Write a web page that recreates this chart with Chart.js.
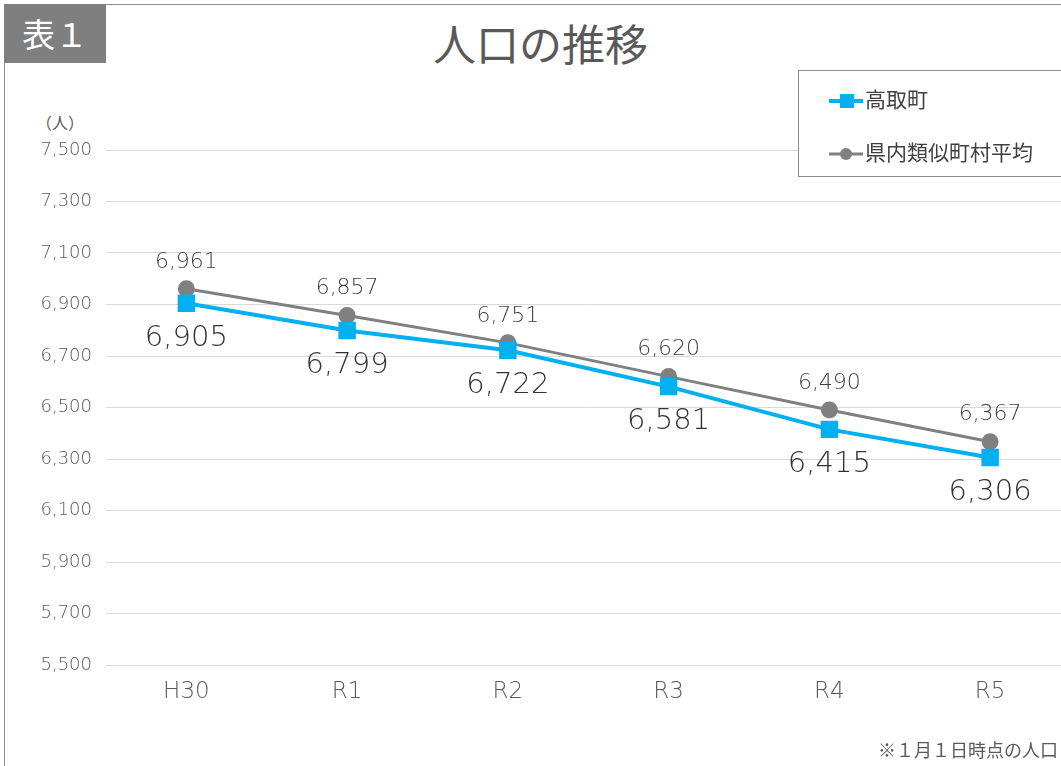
<!DOCTYPE html>
<html>
<head>
<meta charset="utf-8">
<script src="https://cdn.jsdelivr.net/npm/chart.js@4/dist/chart.umd.min.js"></script>
<style>
  html, body { margin: 0; padding: 0; background: #fff; overflow: hidden; }
  body { width: 1061px; height: 766px; position: relative; font-family: "Noto Sans CJK JP", sans-serif; }
  #frame { position: absolute; left: 4px; top: 4px; width: 1100px; height: 800px; border-left: 1px solid #8c8c8c; border-top: 1px solid #8c8c8c; }
  #tag { position: absolute; left: 4px; top: 4px; width: 102px; height: 59px; background: #7f7f7f; color: #fff; font-size: 33px; line-height: 59px; text-align: center; }
  #title { position: absolute; left: 0; width: 1081px; top: 12px; text-align: center; font-size: 43px; line-height: 60px; color: #595959; }
  #unit { position: absolute; left: 36px; top: 110px; font-size: 16px; color: #595959; }
  #legend { position: absolute; left: 798px; top: 70px; width: 300px; height: 105px; border: 1px solid #8c8c8c; background: #fff; }
  .item { position: absolute; left: 30px; font-size: 21px; color: #404040; line-height: 26px; }
  .item canvas { vertical-align: middle; margin-right: 2px; }
  #note { position: absolute; right: 3px; top: 736px; font-size: 18px; color: #595959; }
  #wrap { position: absolute; left: 0; top: 0; width: 1084px; height: 766px; }
</style>
</head>
<body>
<div id="frame"></div>
<div id="tag">表１</div>
<div id="title">人口の推移</div>
<div id="unit">（人）</div>
<div id="wrap"><canvas id="myChart" width="1084" height="766"></canvas></div>
<div id="legend"></div>
<div id="note">※１月１日時点の人口</div>
<script>
const years = ["H30", "R1", "R2", "R3", "R4", "R5"];
const takatori = [6905, 6799, 6722, 6581, 6415, 6306];
const similarAvg = [6961, 6857, 6751, 6620, 6490, 6367];
const yTicks = [5500, 5700, 5900, 6100, 6300, 6500, 6700, 6900, 7100, 7300, 7500];

const numFont = '"DejaVu Sans", sans-serif';

// value labels: grey series above the point, blue series below
const valueLabels = {
  id: 'valueLabels',
  afterDatasetsDraw(chart) {
    const ctx = chart.ctx;
    ctx.save();
    ctx.textAlign = 'center';
    ctx.textBaseline = 'middle';
    chart.data.datasets.forEach((ds, i) => {
      const meta = chart.getDatasetMeta(i);
      meta.data.forEach((pt, j) => {
        const v = ds.data[j].toLocaleString('en-US');
        if (i === 0) {
          ctx.fillStyle = '#333333';
          ctx.font = '200 29px ' + numFont;
          ctx.fillText(v, pt.x, pt.y + 35);
        } else {
          ctx.fillStyle = '#404040';
          ctx.font = '200 22px ' + numFont;
          ctx.fillText(v, pt.x, pt.y - 27);
        }
      });
    });
    ctx.restore();
  }
};

const data = {
  labels: years,
  datasets: [
    {
      label: '高取町',
      data: takatori,
      borderColor: '#00B0F0',
      backgroundColor: '#00B0F0',
      borderWidth: 4,
      pointStyle: 'rect',
      pointRadius: 9.5,
      pointHoverRadius: 9.5,
      order: 1
    },
    {
      label: '県内類似町村平均',
      data: similarAvg,
      borderColor: '#808080',
      backgroundColor: '#808080',
      borderWidth: 3,
      pointStyle: 'circle',
      pointRadius: 7,
      pointHoverRadius: 7,
      order: 2
    }
  ]
};

const config = {
  type: 'line',
  data: data,
  options: {
    responsive: false,
    animation: false,
    layout: { padding: { top: 150, right: 0, left: 0, bottom: 0 } },
    plugins: {
      legend: { display: false },
      tooltip: { enabled: false }
    },
    scales: {
      x: {
        offset: true,
        grid: { display: false, drawTicks: false },
        border: { display: false },
        ticks: {
          color: '#595959',
          font: { family: numFont, size: 23, weight: '200' },
          padding: 13
        },
        afterFit(scale) { scale.height = 101; }
      },
      y: {
        min: 5500,
        max: 7500,
        afterBuildTicks(scale) { scale.ticks = yTicks.map(v => ({ value: v })); },
        grid: { color: '#d9d9d9', lineWidth: 1, drawTicks: false },
        border: { display: false },
        ticks: {
          color: '#595959',
          font: { family: numFont, size: 18, weight: '200' },
          padding: 14,
          callback: v => v.toLocaleString('en-US')
        },
        afterFit(scale) { scale.width = 106; }
      }
    }
  },
  plugins: [valueLabels]
};

const myChart = new Chart(document.getElementById('myChart'), config);

// legend built from the datasets
const legend = document.getElementById('legend');
data.datasets.forEach((ds, i) => {
  const item = document.createElement('div');
  item.className = 'item';
  item.style.top = (i === 0 ? 14 : 67) + 'px';
  const c = document.createElement('canvas');
  c.width = 34; c.height = 20;
  const g = c.getContext('2d');
  g.strokeStyle = ds.borderColor; g.lineWidth = ds.borderWidth;
  g.beginPath(); g.moveTo(0, 10); g.lineTo(34, 10); g.stroke();
  g.fillStyle = ds.backgroundColor;
  if (ds.pointStyle === 'rect') { g.fillRect(11, 3, 14, 14); }
  else { g.beginPath(); g.arc(17, 10, 6, 0, Math.PI * 2); g.fill(); }
  item.appendChild(c);
  item.appendChild(document.createTextNode(ds.label));
  legend.appendChild(item);
});
</script>
</body>
</html>
